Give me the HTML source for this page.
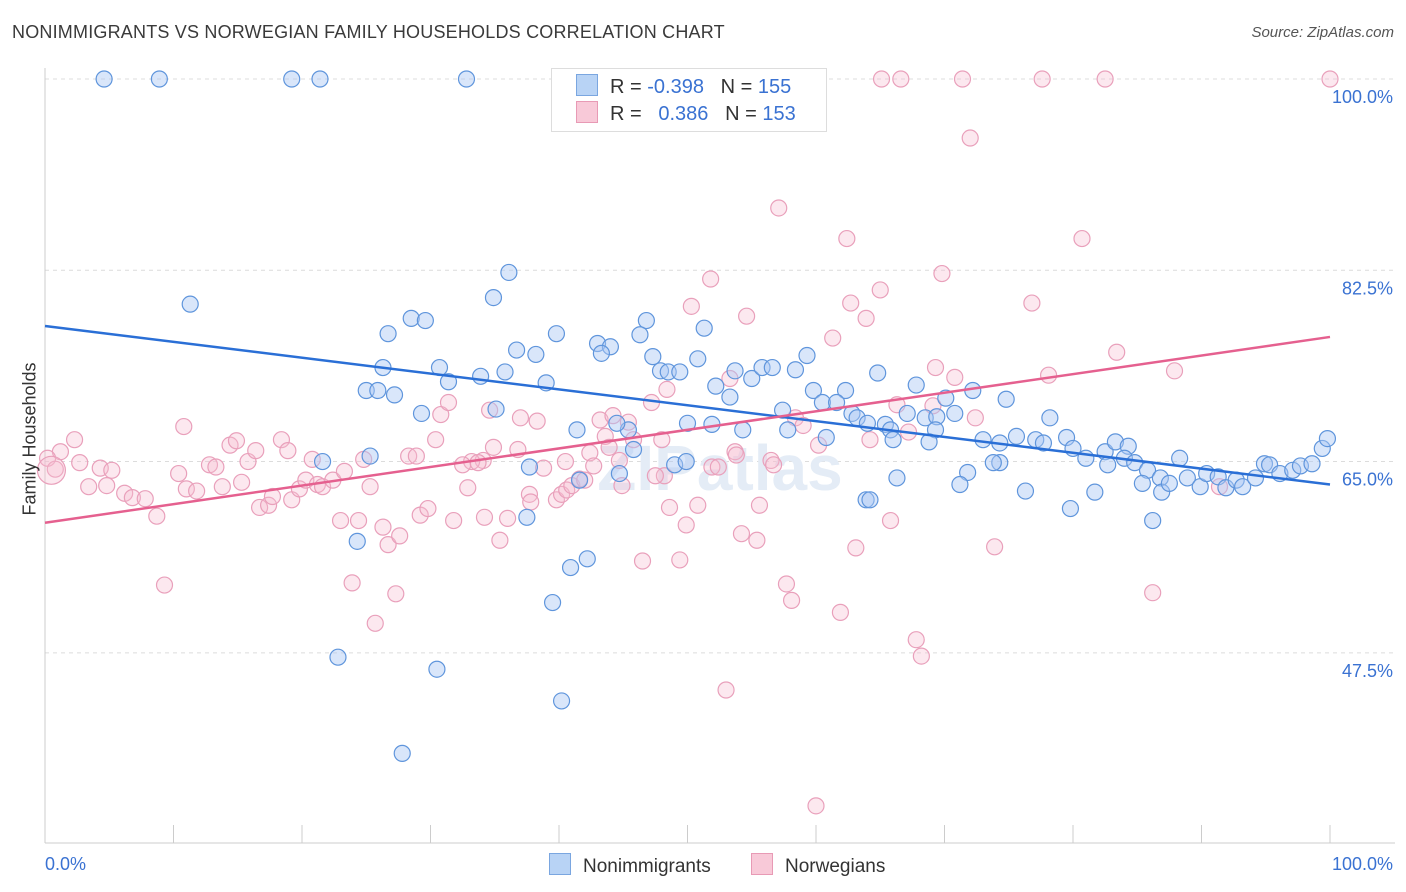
<!DOCTYPE html>
<html><head><meta charset="utf-8"><style>
body{margin:0;background:#fff;font-family:"Liberation Sans",sans-serif;}
#wrap{position:relative;width:1406px;height:892px;overflow:hidden;}
.t{position:absolute;white-space:nowrap;}
</style></head><body>
<div id="wrap">
<div class="t" style="left:12px;top:22px;font-size:18px;color:#3a3a3a;letter-spacing:0.2px">NONIMMIGRANTS VS NORWEGIAN FAMILY HOUSEHOLDS CORRELATION CHART</div>
<div class="t" style="right:12px;top:24px;font-size:15px;color:#555;font-style:italic">Source: ZipAtlas.com</div>
<svg id="plot" width="1406" height="892" style="position:absolute;left:0;top:0"></svg>
<div class="t" style="left:551px;top:68px;width:274px;height:62px;border:1px solid #ddd;background:#fff"></div>
<div class="t" style="left:576px;top:74px;font-size:20px;color:#333"><span style="display:inline-block;width:20px;height:20px;background:#b8d3f5;border:1px solid #7aa6e0;vertical-align:-3px;margin-right:12px"></span>R = <span style="color:#3a72d2">-0.398</span>&nbsp;&nbsp;&nbsp;N = <span style="color:#3a72d2">155</span></div>
<div class="t" style="left:576px;top:101px;font-size:20px;color:#333"><span style="display:inline-block;width:20px;height:20px;background:#f8c9d8;border:1px solid #e89ab5;vertical-align:-3px;margin-right:12px"></span>R = &nbsp;&nbsp;<span style="color:#3a72d2">0.386</span>&nbsp;&nbsp;&nbsp;N = <span style="color:#3a72d2">153</span></div>
<div class="t" style="left:-30px;top:445px;font-size:18px;color:#333;transform:rotate(-90deg);width:120px;text-align:center">Family Households</div>
<div class="t" style="left:549px;top:853px;font-size:19px;color:#333"><span style="display:inline-block;width:20px;height:20px;background:#b8d3f5;border:1px solid #7aa6e0;vertical-align:-3px;margin-right:12px"></span>Nonimmigrants</div>
<div class="t" style="left:751px;top:853px;font-size:19px;color:#333"><span style="display:inline-block;width:20px;height:20px;background:#f8c9d8;border:1px solid #e89ab5;vertical-align:-3px;margin-right:12px"></span>Norwegians</div>
</div>
<script>
const blueX=[4.6,8.9,19.2,21.4,32.8,11.3,36.1,34.9,28.5,29.6,26.7,39.8,46.8,51.3,43.0,44.0,43.3,46.3,36.7,38.2,26.3,30.7,33.9,31.4,25.0,25.9,27.2,39.0,35.8,47.3,47.9,48.5,49.4,50.8,53.7,55.0,55.8,56.6,58.4,59.3,52.2,53.3,59.8,62.3,60.5,61.6,57.4,62.8,63.2,64.8,67.8,70.1,72.2,74.8,29.3,35.1,41.4,45.4,44.5,50.0,51.9,54.3,57.8,60.8,64.0,65.4,65.8,67.1,68.5,69.4,70.8,69.3,68.8,73.0,74.3,75.6,77.1,78.2,77.7,79.5,80.0,81.0,82.5,83.3,84.3,82.7,84.0,84.8,85.8,86.8,85.4,86.9,87.5,88.3,88.9,89.9,90.4,91.3,91.9,92.7,93.2,94.2,94.9,95.3,96.1,97.1,97.7,98.6,99.4,99.8,74.3,71.8,71.2,76.3,81.7,79.8,86.2,73.8,66.0,49.0,44.7,41.6,37.7,21.6,25.3,24.3,37.5,42.2,40.9,39.5,22.8,30.5,40.2,27.8,45.8,63.9,64.2,66.3,49.9];
const blueY=[100,100,100,100,100,79.4,82.3,80.0,78.1,77.9,76.7,76.7,77.9,77.2,75.8,75.5,74.9,76.6,75.2,74.8,73.6,73.6,72.8,72.3,71.5,71.5,71.1,72.2,73.2,74.6,73.3,73.2,73.2,74.4,73.3,72.6,73.6,73.6,73.4,74.7,71.9,70.9,71.5,71.5,70.4,70.4,69.7,69.4,69.0,73.1,72.0,70.8,71.5,70.7,69.4,69.8,67.9,67.9,68.5,68.5,68.4,67.9,67.9,67.2,68.5,68.4,67.9,69.4,69.0,69.1,69.4,67.9,66.8,67.0,66.7,67.3,67.0,69.0,66.7,67.2,66.2,65.3,65.9,66.8,66.4,64.7,65.3,64.9,64.2,63.5,63.0,62.2,63.0,65.3,63.5,62.7,63.9,63.6,62.6,63.3,62.7,63.5,64.8,64.7,63.9,64.2,64.6,64.8,66.2,67.1,64.9,64.0,62.9,62.3,62.2,60.7,59.6,64.9,67.0,64.7,63.9,63.3,64.5,65.0,65.5,57.7,59.9,56.1,55.3,52.1,47.1,46.0,43.1,38.3,66.1,61.5,61.5,63.5,65.0];
const pinkX=[65.1,66.6,71.4,77.6,82.5,100,72.0,57.1,62.4,80.7,69.8,51.8,65.0,62.7,63.9,50.3,54.6,76.8,61.3,83.4,87.9,78.1,69.3,70.8,48.4,47.2,53.3,34.6,37.0,38.3,43.2,44.2,45.4,45.8,48.0,43.6,43.9,34.9,36.8,34.1,33.2,33.7,32.5,38.8,40.5,42.4,42.7,53.7,56.5,56.7,58.4,59.0,60.2,64.2,66.3,67.2,69.1,72.4,10.8,2.3,1.2,0.2,0.8,2.7,4.3,5.2,3.4,4.8,6.2,6.8,7.8,8.7,9.3,10.4,11.0,11.8,12.8,13.3,13.8,14.4,14.9,15.8,16.4,15.3,16.7,17.4,17.7,18.4,18.9,19.2,19.8,20.3,20.8,21.2,21.6,22.4,23.0,23.3,23.9,24.4,24.8,25.3,25.7,26.3,26.7,27.3,27.6,28.3,28.9,29.2,29.8,30.4,30.8,31.4,31.8,32.9,34.2,35.4,36.0,37.7,37.8,39.8,40.2,40.6,41.0,41.6,42.0,44.9,46.5,48.2,48.6,49.4,49.9,50.8,51.9,52.4,53.0,53.8,54.2,55.4,55.6,57.7,58.1,60.0,61.9,63.1,65.8,67.8,68.2,73.9,86.2,91.4,0.5,44.7,47.5];
const pinkY=[100,100,100,100,100,100,94.6,88.2,85.4,85.4,82.2,81.7,80.7,79.5,78.1,79.2,78.3,79.5,76.3,75.0,73.3,72.9,73.6,72.7,71.6,70.4,72.6,69.7,69.0,68.7,68.8,69.2,68.6,67.0,67.0,67.3,66.3,66.3,66.1,65.1,65.0,64.9,64.7,64.4,65.0,65.8,64.6,65.9,65.1,64.7,69.0,68.3,66.5,67.0,70.2,67.7,70.1,69.0,68.2,67.0,65.9,65.3,64.3,64.9,64.4,64.2,62.7,62.8,62.1,61.7,61.6,60.0,53.7,63.9,62.5,62.3,64.7,64.5,62.7,66.5,66.9,65.0,66.0,63.1,60.8,61.0,61.8,67.0,66.0,61.5,62.5,63.3,65.2,62.9,62.7,63.3,59.6,64.1,53.9,59.6,65.2,62.7,50.2,59.0,57.4,52.9,58.2,65.5,65.5,60.1,60.7,67.0,69.3,70.4,59.6,62.6,59.9,57.8,59.8,62.0,61.3,61.5,62.0,62.4,62.8,63.4,63.3,62.8,55.9,63.7,60.8,56.0,59.2,61.0,64.5,64.5,44.1,65.6,58.4,57.8,61.0,53.8,52.3,33.5,51.2,57.1,59.6,48.7,47.2,57.2,53.0,62.7,64.2,65.1,63.7];
const blueTrend=[77.4,62.9];
const pinkTrend=[59.4,76.4];
const yTicks=[100,82.5,65,47.5];
const yTickLabels=["100.0%","82.5%","65.0%","47.5%"];
const xTickLabels=["0.0%","100.0%"];

const X0=45,X1=1330,Y100=79,PXPER=10.93;
const sx=v=>X0+(X1-X0)*v/100;
const sy=v=>Y100+(100-v)*PXPER;
const svg=document.getElementById('plot');
const NS='http://www.w3.org/2000/svg';
function mk(tag,attrs){const e=document.createElementNS(NS,tag);for(const k in attrs)e.setAttribute(k,attrs[k]);svg.appendChild(e);return e;}
yTicks.forEach((t,i)=>{
  const g=mk('line',{x1:X0,x2:1395,y1:sy(t),y2:sy(t),stroke:'#dcdcdc','stroke-dasharray':'4,4'});
  
  
  const tx=mk('text',{x:1393,y:sy(t)+24,'text-anchor':'end','font-size':18,fill:'#3a72d2','font-family':'Liberation Sans, sans-serif'});
  tx.textContent=yTickLabels[i];
  
  
});
const ax=mk('line',{x1:X0,x2:1395,y1:843,y2:843,stroke:'#ccc'});


const ay=mk('line',{x1:X0,x2:X0,y1:68,y2:843,stroke:'#ccc'});


for(let i=0;i<=10;i++){
  const tk=mk('line',{x1:sx(i*10),x2:sx(i*10),y1:825,y2:843,stroke:'#ccc'});
  
  
}
const xl0=mk('text',{x:45,y:870,'font-size':18,fill:'#3a72d2','font-family':'Liberation Sans, sans-serif'});
xl0.textContent=xTickLabels[0];


const xl1=mk('text',{x:1393,y:870,'text-anchor':'end','font-size':18,fill:'#3a72d2','font-family':'Liberation Sans, sans-serif'});
xl1.textContent=xTickLabels[1];


const wm=mk('text',{x:720,y:490,'text-anchor':'middle','font-size':64,fill:'#e4ecf6','font-weight':'bold','font-family':'Liberation Sans, sans-serif'});
wm.textContent='ZIPatlas';


pinkX.forEach((x,i)=>{
  const c=mk('circle',{cx:sx(x),cy:sy(pinkY[i]),r:i===pinkX.length-3?14:8,fill:'rgba(246,190,210,0.35)',stroke:'#e9a0bb','stroke-width':1.2});
  
  
});
blueX.forEach((x,i)=>{
  const c=mk('circle',{cx:sx(x),cy:sy(blueY[i]),r:8,fill:'rgba(170,200,245,0.45)',stroke:'#5f95dc','stroke-width':1.2});
  
  
});
const bl=mk('line',{x1:sx(0),y1:sy(blueTrend[0]),x2:sx(100),y2:sy(blueTrend[1]),stroke:'#2a6fd6','stroke-width':2.5});


const pl=mk('line',{x1:sx(0),y1:sy(pinkTrend[0]),x2:sx(100),y2:sy(pinkTrend[1]),stroke:'#e5608f','stroke-width':2.5});


</script>
</body></html>
